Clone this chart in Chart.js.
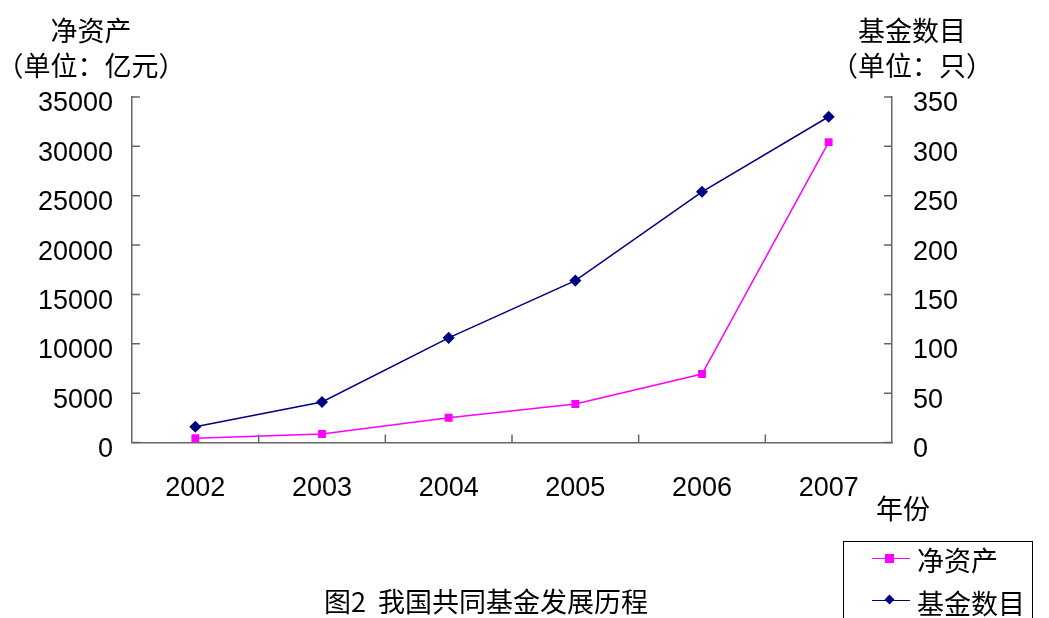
<!DOCTYPE html>
<html>
<head>
<meta charset="utf-8">
<script src="https://cdn.jsdelivr.net/npm/chart.js@4/dist/chart.umd.min.js"></script>
<style>
  html, body { margin:0; padding:0; background:#fff; }
  #wrap { position:relative; width:1049px; height:618px; overflow:hidden; }
  canvas { position:absolute; left:0; top:0; }
  .t { position:absolute; font-family:"Noto Sans CJK SC", sans-serif; font-size:27px; color:#000; white-space:nowrap; line-height:1; transform:translate(-50%,-50%); }
  #legend { position:absolute; left:843px; top:541px; width:190px; height:90px; border:1px solid #000; box-sizing:border-box; background:#fff; }
  .ln { position:absolute; left:28px; width:38px; height:0; border-top:1.5px solid; }
  .mk { position:absolute; }
  .lt { position:absolute; left:73px; font-family:"Noto Sans CJK SC", sans-serif; font-size:27px; line-height:1; white-space:nowrap; transform:translateY(-50%); }
</style>
</head>
<body>
<div id="wrap">
  <canvas id="c" width="1049" height="618"></canvas>
  <div class="t" style="left:91px;top:29px;">净资产</div>
  <div class="t" style="left:91px;top:64px;">（单位：亿元）</div>
  <div class="t" style="left:912px;top:29px;">基金数目</div>
  <div class="t" style="left:912px;top:64px;">（单位：只）</div>
  <div class="t" style="left:903px;top:507px;">年份</div>
  <div class="t" style="left:486px;top:600px;">图2&nbsp; 我国共同基金发展历程</div>
  <div id="legend">
    <div class="ln" style="top:16px;border-color:#FF00FF;"></div>
    <div class="mk" style="left:41px;top:12px;width:9px;height:9px;background:#FF00FF;"></div>
    <div class="lt" style="top:17px;">净资产</div>
    <div class="ln" style="top:58px;border-color:#000080;"></div>
    <div class="mk" style="left:42px;top:54px;width:7px;height:7px;background:#000080;transform:rotate(45deg);"></div>
    <div class="lt" style="top:60px;">基金数目</div>
  </div>
</div>
<script>
const years = ['2002','2003','2004','2005','2006','2007'];
const netAssets = [425, 860, 2510, 3900, 6940, 30430];
const fundCount = [16, 41, 106, 164, 254, 330];
const leftTicks = [0, 5000, 10000, 15000, 20000, 25000, 30000, 35000];
const rightTicks = [0, 50, 100, 150, 200, 250, 300, 350];

const AXIS_COLOR = '#666666';
const tickFont = { family: '"Liberation Sans", Arial, sans-serif', size: 27 };

const inwardTicks = {
  id: 'inwardTicks',
  afterDraw(chart) {
    const ctx = chart.ctx;
    const a = chart.chartArea;
    ctx.save();
    ctx.strokeStyle = AXIS_COLOR;
    ctx.lineWidth = 1.5;
    const yl = chart.scales.y, yr = chart.scales.y2, x = chart.scales.x;
    ctx.beginPath();
    yl.ticks.forEach(t => { const p = yl.getPixelForValue(t.value); ctx.moveTo(a.left, p); ctx.lineTo(a.left + 8, p); });
    yr.ticks.forEach(t => { const p = yr.getPixelForValue(t.value); ctx.moveTo(a.right, p); ctx.lineTo(a.right - 8, p); });
    for (let i = 1; i < years.length; i++) {
      const p = (x.getPixelForValue(i - 1) + x.getPixelForValue(i)) / 2;
      ctx.moveTo(p, a.bottom); ctx.lineTo(p, a.bottom - 8);
    }
    ctx.stroke();
    ctx.restore();
  }
};

new Chart(document.getElementById('c'), {
  type: 'line',
  data: {
    labels: years,
    datasets: [
      { label: '净资产', data: netAssets, yAxisID: 'y', borderColor: '#FF00FF', backgroundColor: '#FF00FF',
        borderWidth: 1.5, pointStyle: 'rect', pointRadius: 4.5, pointHoverRadius: 4.5, tension: 0 },
      { label: '基金数目', data: fundCount, yAxisID: 'y2', borderColor: '#000080', backgroundColor: '#000080',
        borderWidth: 1.5, pointStyle: 'rectRot', pointRadius: 5, pointHoverRadius: 5, tension: 0 }
    ]
  },
  options: {
    responsive: false,
    animation: false,
    events: [],
    layout: { padding: { top: 97, left: 0, right: 0, bottom: 0 } },
    plugins: { legend: { display: false }, title: { display: false }, tooltip: { enabled: false } },
    scales: {
      x: {
        type: 'category', offset: true,
        grid: { drawOnChartArea: false, drawTicks: false },
        border: { display: true, color: AXIS_COLOR, width: 1.5 },
        ticks: { color: '#000', font: tickFont, padding: 30, maxRotation: 0 },
        afterFit: s => { s.height = 175.5; }
      },
      y: {
        position: 'left', min: 0, max: 35000,
        afterBuildTicks: s => { s.ticks = leftTicks.map(v => ({ value: v })); },
        grid: { drawOnChartArea: false, drawTicks: false },
        border: { display: true, color: AXIS_COLOR, width: 1.5 },
        ticks: { color: '#000', font: tickFont, padding: 19, labelOffset: 7, callback: v => String(v) },
        afterFit: s => { s.width = 132; }
      },
      y2: {
        position: 'right', min: 0, max: 350,
        afterBuildTicks: s => { s.ticks = rightTicks.map(v => ({ value: v })); },
        grid: { drawOnChartArea: false, drawTicks: false },
        border: { display: true, color: AXIS_COLOR, width: 1.5 },
        ticks: { color: '#000', font: tickFont, padding: 21, labelOffset: 7, callback: v => String(v) },
        afterFit: s => { s.width = 157; }
      }
    }
  },
  plugins: [inwardTicks]
});
</script>
</body>
</html>
